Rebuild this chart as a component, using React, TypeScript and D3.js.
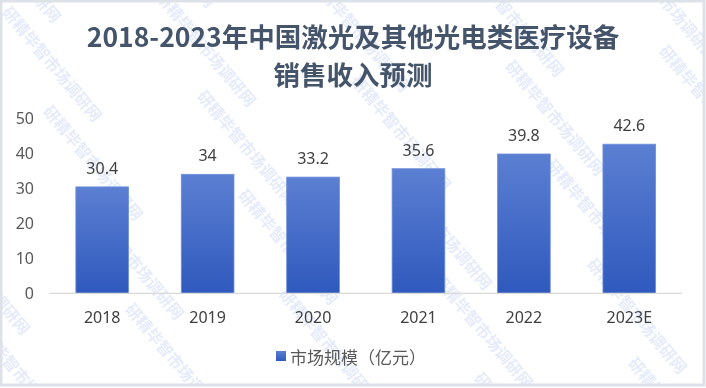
import * as d3 from 'd3';

const years = ['2018', '2019', '2020', '2021', '2022', '2023E'];
const revenue = [30.4, 34, 33.2, 35.6, 39.8, 42.6];
const yTicks = [0, 10, 20, 30, 40, 50];
const titleLines = ['2018-2023年中国激光及其他光电类医疗设备', '销售收入预测'];
const seriesName = '市场规模（亿元）';
const watermark = '研精毕智市场调研网';

const W = 706;
const H = 388;
const FONT = "'Noto Sans', 'Noto Sans CJK SC', sans-serif";

export default function App() {
  const x = d3.scaleBand<string>().domain(years).range([49.5, 682]).paddingInner(0.5).paddingOuter(0.25);
  const y = d3.scaleLinear().domain([0, 50]).range([293.3, 118.3]);

  // faint diagonal watermark lattice
  const marks: [number, number][] = [];
  for (let i = -6; i <= 8; i++) {
    for (let j = -6; j <= 8; j++) {
      const px = 13 + i * 195 + j * 41;
      const py = 3 + i * 84 + j * 99;
      if (px > -120 && px < W - 20 && py > -120 && py < H - 10) marks.push([px, py]);
    }
  }

  return (
    <svg width={W} height={H} style={{ position: 'fixed', left: 0, top: 0, fontFamily: FONT }}>
      <defs>
        <linearGradient id="barFill" x1="0" y1="0" x2="0" y2="1">
          <stop offset="0" stopColor="#5b7fd2" />
          <stop offset="1" stopColor="#2f59bd" />
        </linearGradient>
        <clipPath id="frame">
          <rect x={2} y={2} width={W - 4} height={H - 5} />
        </clipPath>
      </defs>
      <rect x={0} y={0} width={W} height={H} fill="#fff" />

      {/* watermark */}
      <g opacity={0.22} clipPath="url(#frame)">
        {marks.map(([px, py], k) => (
          <text key={k} x={0} y={0} transform={`translate(${px},${py}) rotate(50)`}
            fontSize={16} fontWeight="bold" fill="#8fa6ee" fontFamily="'Noto Sans CJK SC', sans-serif"
            dominantBaseline="hanging">
            {watermark}
          </text>
        ))}
      </g>

      {/* title */}
      {titleLines.map((t, i) => (
        <text key={t} x={353} y={35 + i * 38} textAnchor="middle" dominantBaseline="central"
          fontSize={26.5} fontWeight="bold" fill="#44546a" fontFamily="'Noto Sans CJK SC', sans-serif">
          {t}
        </text>
      ))}

      {/* y ticks */}
      {yTicks.map((t) => (
        <text key={t} x={34} y={y(t)} textAnchor="end" dominantBaseline="central" fontSize={16} fill="#595959">
          {t}
        </text>
      ))}

      {/* bars */}
      {years.map((yr, i) => (
        <g key={yr}>
          <rect x={x(yr)} y={y(revenue[i])} width={x.bandwidth()} height={y(0) - y(revenue[i])}
            fill="url(#barFill)" stroke="#6f8fdb" strokeWidth={0.8} />
          <text x={(x(yr) ?? 0) + x.bandwidth() / 2} y={y(revenue[i]) - 19} textAnchor="middle"
            dominantBaseline="central" fontSize={16} fill="#404040">
            {revenue[i]}
          </text>
          <text x={(x(yr) ?? 0) + x.bandwidth() / 2} y={317} textAnchor="middle"
            dominantBaseline="central" fontSize={16} fill="#404040">
            {yr}
          </text>
        </g>
      ))}

      <line x1={49.5} x2={682} y1={y(0)} y2={y(0)} stroke="#d9d9d9" strokeWidth={1.3} />

      {/* legend */}
      <rect x={276} y={351} width={10} height={10} fill="url(#barFill)" />
      <text x={290} y={356} dominantBaseline="central" fontSize={17} fill="#595959"
        fontFamily="'Noto Sans CJK SC', sans-serif">
        {seriesName}
      </text>

      {/* frame */}
      <rect x={1} y={1} width={W - 3} height={H - 4} fill="none" stroke="#dde1e8" strokeWidth={3} />
    </svg>
  );
}
